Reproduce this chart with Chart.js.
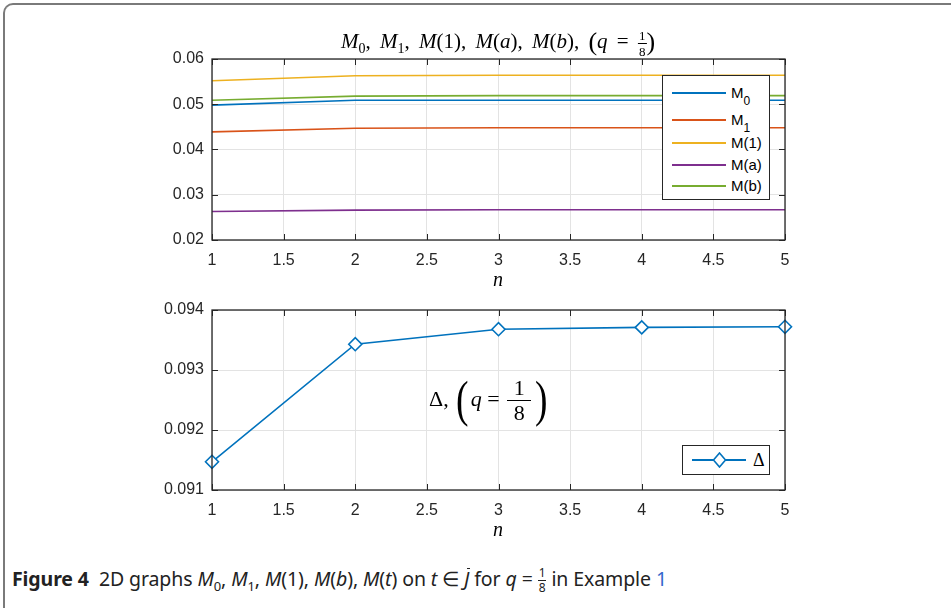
<!DOCTYPE html>
<html>
<head>
<meta charset="utf-8">
<script src="https://cdn.jsdelivr.net/npm/chart.js@4.4.0/dist/chart.umd.min.js"></script>
<style>
  body { margin: 0; background: #fff; width: 951px; height: 608px; overflow: hidden; position: relative; font-family: "Liberation Sans", Arial, sans-serif; color: #262626; }
  .frame { position: absolute; left: 3px; top: 3px; width: 1000px; height: 700px; border-left: 2px solid #7a7a7a; border-top: 2px solid #7a7a7a; border-top-left-radius: 10px; }
  canvas { position: absolute; }
  .tex { position: absolute; font-family: "Liberation Serif", "DejaVu Serif", serif; color: #000; white-space: nowrap; }
  .tex i { font-style: italic; }
  .frac { display: inline-block; vertical-align: middle; text-align: center; line-height: 1; }
  .frac span { display: block; }
  .frac .num { border-bottom: 1px solid #000; padding: 0 1px 1px; }
  .frac .den { padding-top: 1px; }
  .legend { position: absolute; background: #fff; border: 1px solid #262626; font-size: 15px; color: #000; }
  .legend .row { position: absolute; left: 0; height: 0; }
  .legend .ln { position: absolute; left: 9px; top: -1px; width: 54px; height: 2px; }
  .legend .lab { position: absolute; left: 68px; top: -9px; white-space: nowrap; line-height: 18px; }
  .legend sub { font-size: 12px; vertical-align: -7px; }
  .caption { position: absolute; left: 12px; top: 565px; font-family: "Noto Sans", "Open Sans", sans-serif; font-size: 19.5px; letter-spacing: -0.1px; color: #222; white-space: nowrap; }
  .caption i { font-style: italic; }
  .caption sub { font-size: 13px; }
  .jbar { position: relative; display: inline-block; }
  .jbar::before { content: ""; position: absolute; left: 3px; right: -1px; top: 3px; border-top: 1.5px solid #222; }
</style>
</head>
<body>
<div class="frame"></div>

<canvas id="top" width="670" height="240" style="left:140px;top:40px;"></canvas>
<canvas id="bottom" width="670" height="240" style="left:140px;top:290px;"></canvas>

<div class="tex" style="left:498px;top:27px;transform:translateX(-50%);font-size:21px;word-spacing:4px;">
  <i>M</i><sub style="font-size:14px">0</sub>, <i>M</i><sub style="font-size:14px">1</sub>, <i>M</i>(1), <i>M</i>(<i>a</i>), <i>M</i>(<i>b</i>), <span style="font-size:26px;vertical-align:-2px">(</span><i>q</i>&nbsp;=&nbsp;<span class="frac" style="font-size:13px"><span class="num">1</span><span class="den">8</span></span><span style="font-size:26px;vertical-align:-2px">)</span>
</div>

<div class="tex" style="left:493px;top:268px;font-size:20px;"><i>n</i></div>
<div class="tex" style="left:493px;top:518px;font-size:20px;"><i>n</i></div>

<div class="tex" style="left:429px;top:370px;font-size:22px;">
  Δ,&nbsp;<span style="font-size:50px;vertical-align:-10px;font-weight:lighter;transform:scaleX(0.75);display:inline-block">(</span><i>q</i>&nbsp;=&nbsp;<span class="frac" style="font-size:22px;margin:0 2px"><span class="num">&nbsp;1&nbsp;</span><span class="den">8</span></span><span style="font-size:50px;vertical-align:-10px;font-weight:lighter;transform:scaleX(0.75);display:inline-block">)</span>
</div>

<div class="legend" id="legTop" style="left:662px;top:75px;width:106px;height:123px;"></div>

<div class="legend" style="left:682px;top:445px;width:86px;height:28px;">
  <div style="position:absolute;left:9px;top:13px;width:54px;height:2px;background:#0072BD;"></div>
  <svg style="position:absolute;left:29px;top:6px;" width="15" height="16"><polygon points="7.5,1 13.5,8 7.5,15 1.5,8" fill="#fff" stroke="#0072BD" stroke-width="1.6"/></svg>
  <div class="tex" style="left:70px;top:4px;font-size:18px;">Δ</div>
</div>

<div class="caption"><b>Figure 4</b>&nbsp;&nbsp;2D graphs <i>M</i><sub>0</sub>, <i>M</i><sub>1</sub>, <i>M</i>(1), <i>M</i>(<i>b</i>), <i>M</i>(<i>t</i>) on <i>t</i> ∈ <i class="jbar">J</i> for <i>q</i> = <span class="frac" style="font-size:12px"><span class="num" style="border-color:#222">1</span><span class="den">8</span></span> in Example <span style="color:#3366cc">1</span></div>

<script>
// n values on the x axis
const nValues = [1, 2, 3, 4, 5];

// top panel series
const M0 = [0.0498, 0.0509, 0.0509, 0.0509, 0.0509];
const M1 = [0.0439, 0.0447, 0.0448, 0.0448, 0.0448];
const M_1 = [0.0552, 0.0563, 0.0564, 0.0564, 0.0564];
const M_a = [0.0263, 0.0266, 0.0267, 0.0267, 0.0267];
const M_b = [0.0509, 0.0518, 0.0519, 0.0519, 0.0519];

// bottom panel series
const delta = [0.09147, 0.09343, 0.09368, 0.09371, 0.09372];

// ticks
const xTicks = [1, 1.5, 2, 2.5, 3, 3.5, 4, 4.5, 5];
const xTickLabels = ["1", "1.5", "2", "2.5", "3", "3.5", "4", "4.5", "5"];
const yTicksTop = [0.02, 0.03, 0.04, 0.05, 0.06];
const yTickLabelsTop = ["0.02", "0.03", "0.04", "0.05", "0.06"];
const yTicksBottom = [0.091, 0.092, 0.093, 0.094];
const yTickLabelsBottom = ["0.091", "0.092", "0.093", "0.094"];

const seriesTop = [
  { label: "M0", data: M0, color: "#0072BD" },
  { label: "M1", data: M1, color: "#D95319" },
  { label: "M(1)", data: M_1, color: "#EDB120" },
  { label: "M(a)", data: M_a, color: "#7E2F8E" },
  { label: "M(b)", data: M_b, color: "#77AC30" },
];

// legend for the top panel
const legendRowsY = [17, 44, 67, 89, 110];
const legTop = document.getElementById("legTop");
seriesTop.forEach((s, i) => {
  const row = document.createElement("div");
  row.className = "row";
  row.style.top = legendRowsY[i] + "px";
  let text = s.label;
  if (s.label === "M0") text = "M<sub>0</sub>";
  if (s.label === "M1") text = "M<sub>1</sub>";
  row.innerHTML = `<div class="ln" style="background:${s.color}"></div><div class="lab">${text}</div>`;
  legTop.appendChild(row);
});

const boxPlugin = {
  id: "box",
  afterDraw(chart) {
    const { ctx, chartArea: a, scales } = chart;
    const tl = 6;
    ctx.save();
    ctx.strokeStyle = "#262626";
    ctx.lineWidth = 1;
    ctx.beginPath();
    scales.x.ticks.forEach(t => {
      const px = Math.round(scales.x.getPixelForValue(t.value)) + 0.5;
      ctx.moveTo(px, a.bottom); ctx.lineTo(px, a.bottom - tl);
      ctx.moveTo(px, a.top); ctx.lineTo(px, a.top + tl);
    });
    scales.y.ticks.forEach(t => {
      const py = Math.round(scales.y.getPixelForValue(t.value)) + 0.5;
      ctx.moveTo(a.left, py); ctx.lineTo(a.left + tl, py);
      ctx.moveTo(a.right, py); ctx.lineTo(a.right - tl, py);
    });
    ctx.stroke();
    ctx.lineWidth = 1.3;
    ctx.strokeRect(a.left, a.top, a.right - a.left, a.bottom - a.top);
    ctx.restore();
  }
};

function makeOptions(yTicks, yLabels, yMin, yMax, topPad) {
  return {
    responsive: false,
    devicePixelRatio: 1,
    animation: false,
    layout: { padding: { top: topPad, right: 25, left: 0, bottom: 0 } },
    plugins: { legend: { display: false }, tooltip: { enabled: false } },
    scales: {
      x: {
        type: "linear", min: 1, max: 5,
        afterBuildTicks: s => { s.ticks = xTicks.map(v => ({ value: v })); },
        afterFit: s => { s.height = 40; },
        grid: { color: "#e3e3e3", drawTicks: false },
        border: { display: false },
        ticks: {
          padding: 11, color: "#262626",
          font: { family: "Liberation Sans", size: 16 },
          callback: (v) => xTickLabels[xTicks.indexOf(v)],
          maxRotation: 0, autoSkip: false
        }
      },
      y: {
        type: "linear", min: yMin, max: yMax,
        afterBuildTicks: s => { s.ticks = yTicks.map(v => ({ value: v })); },
        afterFit: s => { s.width = 72; },
        grid: { color: "#e3e3e3", drawTicks: false },
        border: { display: false },
        ticks: {
          padding: 8, color: "#262626",
          font: { family: "Liberation Sans", size: 16 },
          callback: (v) => yLabels[yTicks.findIndex(t => Math.abs(t - v) < 1e-9)]
        }
      }
    }
  };
}

new Chart(document.getElementById("top"), {
  type: "line",
  data: {
    datasets: seriesTop.map(s => ({
      label: s.label,
      data: nValues.map((n, i) => ({ x: n, y: s.data[i] })),
      borderColor: s.color,
      borderWidth: 1.6,
      pointRadius: 0,
      tension: 0
    }))
  },
  options: makeOptions(yTicksTop, yTickLabelsTop, 0.02, 0.06, 19),
  plugins: [boxPlugin]
});

new Chart(document.getElementById("bottom"), {
  type: "line",
  data: {
    datasets: [{
      label: "Δ",
      data: nValues.map((n, i) => ({ x: n, y: delta[i] })),
      borderColor: "#0072BD",
      borderWidth: 1.6,
      pointStyle: "rectRot",
      pointRadius: 6.5,
      pointBorderWidth: 1.6,
      pointBackgroundColor: "#fff",
      pointBorderColor: "#0072BD",
      tension: 0,
      clip: false
    }]
  },
  options: makeOptions(yTicksBottom, yTickLabelsBottom, 0.091, 0.094, 20),
  plugins: [boxPlugin]
});
</script>
</body>
</html>
